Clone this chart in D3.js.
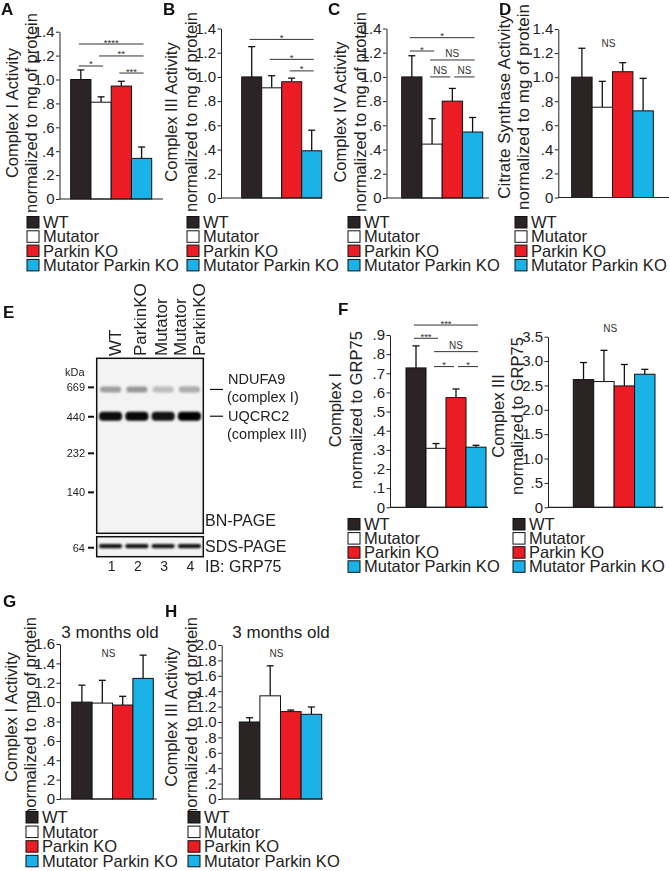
<!DOCTYPE html>
<html><head><meta charset="utf-8">
<script src="https://cdn.jsdelivr.net/npm/d3@7"></script>
<style>html,body{margin:0;padding:0;background:#fff;} svg{display:block;}</style>
</head><body><svg id="fig" width="669" height="871"></svg>
<script>
// ---------------- DATA ----------------
const groups = ["WT", "Mutator", "Parkin KO", "Mutator Parkin KO"];

// Panel A: Complex I activity (12 months)
const complexIValues = [1.00, 0.81, 0.945, 0.34];
const complexIErrors = [0.08, 0.045, 0.04, 0.095];
// Panel B: Complex III activity
const complexIIIValues = [1.00, 0.91, 0.96, 0.39];
const complexIIIErrors = [0.25, 0.10, 0.03, 0.17];
// Panel C: Complex IV activity
const complexIVValues = [1.00, 0.445, 0.80, 0.545];
const complexIVErrors = [0.175, 0.21, 0.105, 0.12];
// Panel D: Citrate synthase activity
const citrateValues = [1.00, 0.75, 1.045, 0.72];
const citrateErrors = [0.24, 0.215, 0.075, 0.27];
// Panel F: BN-PAGE quantification
const bnComplexIValues = [0.728, 0.308, 0.573, 0.314];
const bnComplexIErrors = [0.115, 0.025, 0.045, 0.01];
const bnComplexIIIValues = [2.62, 2.58, 2.49, 2.73];
const bnComplexIIIErrors = [0.35, 0.64, 0.44, 0.10];
// Panel G / H: 3 months old
const young1Values = [1.00, 0.99, 0.97, 1.245];
const young1Errors = [0.175, 0.235, 0.09, 0.24];
const young3Values = [1.00, 1.34, 1.135, 1.10];
const young3Errors = [0.055, 0.39, 0.02, 0.095];

// tick values and labels
const ticks14 = [0, 0.2, 0.4, 0.6, 0.8, 1.0, 1.2, 1.4];
const ticks14Labels = ["0", ".2", ".4", ".6", ".8", "1.0", "1.2", "1.4"];
const ticks09 = [0, 0.1, 0.2, 0.3, 0.4, 0.5, 0.6, 0.7, 0.8, 0.9];
const ticks09Labels = ["0", ".1", ".2", ".3", ".4", ".5", ".6", ".7", ".8", ".9"];
const ticks35 = [0, 0.5, 1.0, 1.5, 2.0, 2.5, 3.0, 3.5];
const ticks35Labels = ["0", ".5", "1.0", "1.5", "2.0", "2.5", "3.0", "3.5"];
const ticks16 = [0, 0.2, 0.4, 0.6, 0.8, 1.0, 1.2, 1.4, 1.6];
const ticks16Labels = ["0", ".2", ".4", ".6", ".8", "1.0", "1.2", "1.4", "1.6"];
const ticks20 = [0, 0.2, 0.4, 0.6, 0.8, 1.0, 1.2, 1.4, 1.6, 1.8, 2.0];
const ticks20Labels = ["0", ".2", ".4", ".6", ".8", "1.0", "1.2", "1.4", "1.6", "1.8", "2.0"];

// significance brackets: [fromGroup, toGroup, height (data units), label]
const sigA = [[0, 3, 1.297, "****"], [1, 3, 1.197, "**"], [0, 1, 1.113, "*"], [2, 3, 1.054, "***"]];
const sigB = [[0, 3, 1.31, "*"], [1, 3, 1.145, "*"], [2, 3, 1.05, "*"]];
const sigC = [[0, 3, 1.324, "*"], [0, 1, 1.214, "*"], [1, 3, 1.14, "NS"], [1, 2, 1.0, "NS"], [2, 3, 1.0, "NS"]];
const sigF1 = [[0, 3, 0.952, "***"], [0, 1, 0.883, "***"], [1, 3, 0.813, "NS"], [1, 2, 0.735, "*"], [2, 3, 0.735, "*"]];
const nsD = 1.28, nsF2 = 3.66, nsG = 1.50, nsH = 1.89;

// Blot (panel E)
const laneIds = [1, 2, 3, 4];
const laneLabels = [["WT"], ["ParkinKO"], ["Mutator"], ["Mutator", "ParkinKO"]];
const markerKDa = ["669", "440", "232", "140"];
const markerRf = [0.166, 0.334, 0.543, 0.766];
const bandNames = ["NDUFA9", "UQCRC2"];
const bandRf = [0.178, 0.331];
const ndufa9Intensity = [0.45, 0.48, 0.28, 0.36];
const uqcrc2Intensity = [0.95, 0.97, 0.92, 1.0];
const grp75Intensity = [0.92, 0.92, 0.9, 0.92];

// ---------------- STYLE ----------------
const FONT = "'Liberation Sans', Arial, Helvetica, sans-serif";
const groupColors = ["#2a2425", "#ffffff", "#ec1c24", "#1bb2e7"];
const svg = d3.select("#fig").attr("font-family", FONT);
svg.append("rect").attr("width", 669).attr("height", 871).attr("fill", "#fff");

function barPanel(p) {
  const g = svg.append("g");
  const y = d3.scaleLinear().domain([0, p.max]).range([p.y0, p.y1]);
  const x = d3.scaleBand().domain(groups).range([p.barL, p.barR]);
  const cx = i => x(groups[i]) + x.bandwidth() / 2;

  // error bars (upper only)
  const eb = g.append("g").attr("stroke", "#111").attr("stroke-width", 1.3);
  p.values.forEach((v, i) => {
    const top = y(v + p.errors[i]);
    eb.append("line").attr("x1", cx(i)).attr("x2", cx(i)).attr("y1", y(v)).attr("y2", top);
    eb.append("line").attr("x1", cx(i) - 3.5).attr("x2", cx(i) + 3.5).attr("y1", top).attr("y2", top);
  });
  // bars
  g.append("g").selectAll("rect").data(p.values).join("rect")
    .attr("x", (d, i) => x(groups[i]))
    .attr("y", d => y(d))
    .attr("width", x.bandwidth())
    .attr("height", d => y(0) - y(d))
    .attr("fill", (d, i) => groupColors[i])
    .attr("stroke", "#111").attr("stroke-width", 1);

  // axis
  const ax = g.append("g").attr("transform", `translate(${p.axisX},0)`)
    .call(d3.axisLeft(y).tickValues(p.ticks).tickFormat((d, i) => p.tickLabels[i])
      .tickSize(3.5).tickSizeOuter(0).tickPadding(1.5));
  ax.attr("font-family", FONT).attr("font-size", p.tickFs || 15);
  ax.selectAll("text").attr("fill", "#222");
  ax.selectAll("line").attr("stroke", "#222");
  ax.select(".domain").attr("stroke", "#222");
  // baseline
  g.append("line").attr("x1", p.axisX).attr("x2", p.baseEnd).attr("y1", y(0)).attr("y2", y(0))
    .attr("stroke", "#222").attr("stroke-width", 1.2);

  // y label lines
  p.ylabel.forEach((t, k) => {
    g.append("text").attr("transform", `translate(${p.ylabX[k]},${p.ylabY})rotate(-90)`)
      .attr("text-anchor", "middle").attr("font-size", p.ylabFs || 16.5).attr("fill", "#222").text(t);
  });

  // significance
  if (p.sig) {
    const sg = g.append("g");
    p.sig.forEach(([i, j, lvl, lab]) => {
      const startsAtJ = p.sig.some(s => s[0] === j && s[2] === lvl);
      const endsAtI = p.sig.some(s => s[1] === i && s[2] === lvl);
      const xa = endsAtI ? cx(i) + 2 : cx(i) - 2;
      const xb = startsAtJ ? cx(j) - 2 : cx(j) + 2;
      const yy = y(lvl);
      sg.append("line").attr("x1", xa).attr("x2", xb).attr("y1", yy).attr("y2", yy)
        .attr("stroke", "#333").attr("stroke-width", 1);
      const isStar = lab.indexOf("*") >= 0;
      sg.append("text").attr("x", (xa + xb) / 2).attr("y", isStar ? yy + 1.5 : yy - 3)
        .attr("text-anchor", "middle").attr("font-size", isStar ? 9.5 : 10).attr("fill", "#333").text(lab);
    });
  }
  if (p.ns !== undefined) {
    g.append("text").attr("x", x(groups[2]) - 4).attr("y", y(p.ns) + 3.5)
      .attr("text-anchor", "middle").attr("font-size", 10).attr("fill", "#333").text("NS");
  }
  if (p.title) {
    g.append("text").attr("x", p.titleX).attr("y", p.titleY).attr("text-anchor", "middle")
      .attr("font-size", 17).attr("fill", "#222").text(p.title);
  }

  // legend
  const lg = g.append("g");
  groups.forEach((name, i) => {
    const by = p.legY + i * p.legStep;
    lg.append("rect").attr("x", p.legX).attr("y", by - 11.5).attr("width", 12).attr("height", 11.5)
      .attr("fill", groupColors[i]).attr("stroke", "#111").attr("stroke-width", 1);
    lg.append("text").attr("x", p.legX + 16).attr("y", by).attr("font-size", 16.5).attr("fill", "#222").text(name);
  });
}

function panelLetter(t, x, y) {
  svg.append("text").attr("x", x).attr("y", y).attr("font-size", 17).attr("font-weight", "bold")
    .attr("fill", "#111").text(t);
}

const actLabel2 = "normalized to mg of protein";

barPanel({values: complexIValues, errors: complexIErrors, max: 1.4, ticks: ticks14, tickLabels: ticks14Labels,
  axisX: 59.5, barL: 70.7, barR: 151.7, y0: 199, y1: 31.7, baseEnd: 163,
  ylabel: ["Complex I Activity", actLabel2], ylabX: [18, 37], ylabY: 113,
  sig: sigA, legX: 27, legY: 228, legStep: 14.3});
barPanel({values: complexIIIValues, errors: complexIIIErrors, max: 1.4, ticks: ticks14, tickLabels: ticks14Labels,
  axisX: 221, barL: 241.7, barR: 321.7, y0: 198, y1: 28.5, baseEnd: 322,
  ylabel: ["Complex III Activity", actLabel2], ylabX: [177, 197], ylabY: 112,
  sig: sigB, legX: 187, legY: 228, legStep: 14.3});
barPanel({values: complexIVValues, errors: complexIVErrors, max: 1.4, ticks: ticks14, tickLabels: ticks14Labels,
  axisX: 386.5, barL: 401.7, barR: 482.7, y0: 198, y1: 28.5, baseEnd: 489,
  ylabel: ["Complex IV Activity", actLabel2], ylabX: [346, 366], ylabY: 112,
  sig: sigC, legX: 348, legY: 228, legStep: 14.3});
barPanel({values: citrateValues, errors: citrateErrors, max: 1.4, ticks: ticks14, tickLabels: ticks14Labels,
  axisX: 558.3, barL: 571.7, barR: 653.3, y0: 197.5, y1: 29, baseEnd: 669,
  ylabel: ["Citrate Synthase Activity", actLabel2], ylabX: [510, 529], ylabY: 107, ylabFs: 17,
  ns: nsD, legX: 515, legY: 228, legStep: 14.3});

barPanel({values: bnComplexIValues, errors: bnComplexIErrors, max: 0.9, ticks: ticks09, tickLabels: ticks09Labels,
  axisX: 390, barL: 406, barR: 486, y0: 507.3, y1: 335, baseEnd: 488,
  ylabel: ["Complex I", "normalized to GRP75"], ylabX: [341, 362], ylabY: 410,
  sig: sigF1, legX: 348, legY: 530, legStep: 14.1});
barPanel({values: bnComplexIIIValues, errors: bnComplexIIIErrors, max: 3.5, ticks: ticks35, tickLabels: ticks35Labels,
  axisX: 548, barL: 573.3, barR: 655, y0: 507.3, y1: 336.7, baseEnd: 663,
  ylabel: ["Complex III", "normalized to GRP75"], ylabX: [504, 523], ylabY: 416,
  ns: nsF2, legX: 513, legY: 530, legStep: 14.1});

barPanel({values: young1Values, errors: young1Errors, max: 1.6, ticks: ticks16, tickLabels: ticks16Labels,
  axisX: 60, barL: 71.7, barR: 153.3, y0: 799, y1: 644, baseEnd: 157,
  ylabel: ["Complex I Activity", actLabel2], ylabX: [17, 36], ylabY: 717,
  ns: nsG, title: "3 months old", titleX: 110, titleY: 637.5, legX: 26, legY: 823, legStep: 14.6});
barPanel({values: young3Values, errors: young3Errors, max: 2.0, ticks: ticks20, tickLabels: ticks20Labels,
  axisX: 221.7, barL: 239.3, barR: 321.7, y0: 799, y1: 645, baseEnd: 323,
  ylabel: ["Complex III Activity", actLabel2], ylabX: [177, 197], ylabY: 717,
  ns: nsH, title: "3 months old", titleX: 281, titleY: 637.5, legX: 188, legY: 823, legStep: 14.6});

// ---------------- Panel E: blot ----------------
(function () {
  const g = svg.append("g");
  const defs = svg.append("defs");
  defs.append("filter").attr("id", "blur").attr("x", "-20%").attr("y", "-100%").attr("width", "140%").attr("height", "300%")
    .append("feGaussianBlur").attr("stdDeviation", 1.1);
  const gelX0 = 96.7, gelX1 = 203.3;
  const gelY = d3.scaleLinear().domain([0, 1]).range([358.3, 533.3]);
  const sdsY = d3.scaleLinear().domain([0, 1]).range([536.7, 556.7]);
  const lane = d3.scaleBand().domain(laneIds).range([gelX0 + 1, gelX1 - 1]).paddingInner(0.12).paddingOuter(0.05);
  const lc = id => lane(id) + lane.bandwidth() / 2;

  g.append("rect").attr("x", gelX0).attr("y", gelY(0)).attr("width", gelX1 - gelX0).attr("height", gelY(1) - gelY(0))
    .attr("fill", "#f3f3f3");
  g.append("rect").attr("x", gelX0).attr("y", sdsY(0)).attr("width", gelX1 - gelX0).attr("height", sdsY(1) - sdsY(0))
    .attr("fill", "#f3f3f3");

  const bands = g.append("g").attr("filter", "url(#blur)");
  bands.selectAll("rect.n").data(ndufa9Intensity).join("rect")
    .attr("x", (d, i) => lane(laneIds[i]) + 1).attr("width", lane.bandwidth() - 2)
    .attr("y", gelY(bandRf[0]) - 3).attr("height", 6).attr("rx", 3)
    .attr("fill", "#333").attr("opacity", d => d);
  bands.selectAll("rect.u").data(uqcrc2Intensity).join("rect")
    .attr("x", (d, i) => lane(laneIds[i])).attr("width", lane.bandwidth())
    .attr("y", gelY(bandRf[1]) - 4.5).attr("height", 9).attr("rx", 4)
    .attr("fill", "#000").attr("opacity", d => d);
  bands.selectAll("rect.s").data(grp75Intensity).join("rect")
    .attr("x", (d, i) => lane(laneIds[i])).attr("width", lane.bandwidth())
    .attr("y", sdsY(0.47) - 2.2).attr("height", 4.4).attr("rx", 2)
    .attr("fill", "#000").attr("opacity", d => d);

  g.append("rect").attr("x", gelX0).attr("y", gelY(0)).attr("width", gelX1 - gelX0).attr("height", gelY(1) - gelY(0))
    .attr("fill", "none").attr("stroke", "#111").attr("stroke-width", 1.5);
  g.append("rect").attr("x", gelX0).attr("y", sdsY(0)).attr("width", gelX1 - gelX0).attr("height", sdsY(1) - sdsY(0))
    .attr("fill", "none").attr("stroke", "#111").attr("stroke-width", 1.5);

  // markers
  g.append("text").attr("x", 65).attr("y", 376).attr("font-size", 11).attr("fill", "#222").text("kDa");
  markerKDa.forEach((m, i) => {
    const yy = gelY(markerRf[i]);
    g.append("line").attr("x1", 88).attr("x2", 94).attr("y1", yy).attr("y2", yy).attr("stroke", "#111").attr("stroke-width", 2);
    g.append("text").attr("x", 85).attr("y", yy + 4).attr("text-anchor", "end").attr("font-size", 11).attr("fill", "#222").text(m);
  });
  {
    const yy = sdsY(0.55);
    g.append("line").attr("x1", 88).attr("x2", 94).attr("y1", yy).attr("y2", yy).attr("stroke", "#111").attr("stroke-width", 2);
    g.append("text").attr("x", 85).attr("y", yy + 4).attr("text-anchor", "end").attr("font-size", 11).attr("fill", "#222").text("64");
  }

  // lane labels
  const offs = [[10], [9], [4], [-3, 16]];
  laneLabels.forEach((lines, i) => {
    lines.forEach((t, k) => {
      g.append("text").attr("transform", `translate(${lc(laneIds[i]) + offs[i][k]},356)rotate(-90)`)
        .attr("font-size", 17).attr("fill", "#222").text(t);
    });
  });
  // lane numbers
  laneIds.forEach(id => {
    g.append("text").attr("x", lc(id) + 1).attr("y", 571).attr("text-anchor", "middle")
      .attr("font-size", 14).attr("fill", "#222").text(id);
  });

  // band labels
  const subs = ["(complex I)", "(complex III)"];
  bandNames.forEach((b, i) => {
    const yy = gelY(bandRf[i]);
    g.append("line").attr("x1", 210).attr("x2", 223).attr("y1", yy).attr("y2", yy).attr("stroke", "#111").attr("stroke-width", 1.2);
    const ty = i === 0 ? yy - 10 : yy;
    g.append("text").attr("x", 228).attr("y", ty + 5).attr("font-size", 14.5).attr("fill", "#222").text(b);
    g.append("text").attr("x", 227).attr("y", ty + 22.5).attr("font-size", 14.5).attr("fill", "#222").text(subs[i]);
  });
  g.append("text").attr("x", 205).attr("y", 526).attr("font-size", 16).attr("fill", "#222").text("BN-PAGE");
  g.append("text").attr("x", 205).attr("y", 552).attr("font-size", 16).attr("fill", "#222").text("SDS-PAGE");
  g.append("text").attr("x", 205).attr("y", 572).attr("font-size", 16).attr("fill", "#222").text("IB: GRP75");
})();

panelLetter("A", 1, 15);
panelLetter("B", 163, 15);
panelLetter("C", 328, 15);
panelLetter("D", 499, 15);
panelLetter("E", 3, 318);
panelLetter("F", 338, 315);
panelLetter("G", 3, 607);
panelLetter("H", 165, 617);
</script></body></html>
